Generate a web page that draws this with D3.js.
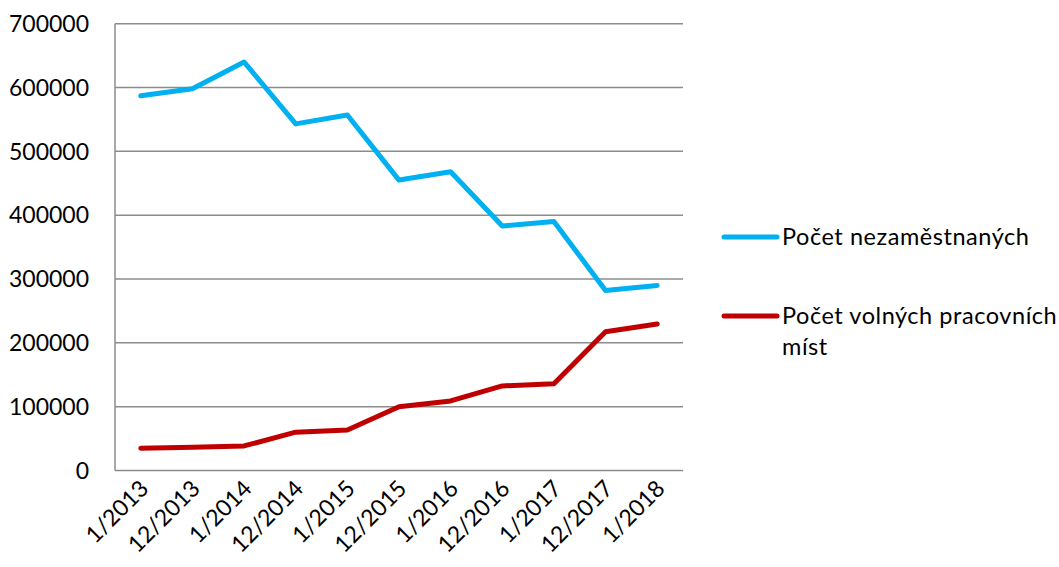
<!DOCTYPE html>
<html><head><meta charset="utf-8">
<script src="https://cdn.jsdelivr.net/npm/d3@7"></script>
<style>body{margin:0;background:#fff;} text{font-family:Lato, "Open Sans", sans-serif;fill:#000;}</style>
</head><body>
<svg id="c" width="1059" height="567"></svg>
<script>
const categories = ["1/2013","12/2013","1/2014","12/2014","1/2015","12/2015","1/2016","12/2016","1/2017","12/2017","1/2018"];
const unemployed = [587000,598000,640000,543000,557000,455000,468000,383000,390000,282000,290000];
const vacancies = [35000,36500,38500,60000,63500,100000,109000,132500,136000,217500,229500];
const yTicks = [0,100000,200000,300000,400000,500000,600000,700000];
const seriesNames = ["Počet nezaměstnaných","Počet volných pracovních míst"];
const colors = ["#00B0F0","#C00000"];

const svg = d3.select("#c");
const pL = 115, pR = 683, pT = 23.7, pB = 470.5;
const x = d3.scaleBand().domain(categories).range([pL,pR]);
const y = d3.scaleLinear().domain([0,700000]).range([pB,pT]);

svg.append("g").selectAll("line").data(yTicks).join("line")
  .attr("x1",pL).attr("x2",pR).attr("y1",d=>y(d)).attr("y2",d=>y(d))
  .attr("stroke","#8c8c8c").attr("stroke-width",1.5);
svg.append("line").attr("x1",pL).attr("x2",pL).attr("y1",pT).attr("y2",pB)
  .attr("stroke","#8c8c8c").attr("stroke-width",1.5);

svg.append("g").selectAll("text").data(yTicks).join("text")
  .attr("x",89).attr("y",d=>y(d)).attr("dy","0.36em").attr("text-anchor","end")
  .style("font-size","23px").text(d=>d);

svg.append("g").selectAll("text").data(categories).join("text")
  .attr("text-anchor","end").style("font-size","23px")
  .attr("transform",d=>`translate(${x(d)+x.bandwidth()/2+9},${490}) rotate(-45)`)
  .text(d=>d);

const line = d3.line().x((d,i)=>x(categories[i])+x.bandwidth()/2).y(d=>y(d));
[unemployed,vacancies].forEach((s,k)=>{
  svg.append("path").attr("d",line(s)).attr("fill","none").attr("stroke",colors[k])
    .attr("stroke-width",5).attr("stroke-linecap","round").attr("stroke-linejoin","round");
});

const lg = [{y:237, lines:[seriesNames[0]]},{y:316, lines:["Počet volných pracovních","míst"]}];
lg.forEach((g,k)=>{
  svg.append("line").attr("x1",724).attr("x2",777).attr("y1",g.y).attr("y2",g.y)
    .attr("stroke",colors[k]).attr("stroke-width",5).attr("stroke-linecap","round");
  g.lines.forEach((t,j)=>{
    svg.append("text").attr("x",782).attr("y",g.y+j*31).attr("dy","0.36em")
      .style("font-size","23.5px").style("letter-spacing","0.55px").text(t);
  });
});
</script>
</body></html>
